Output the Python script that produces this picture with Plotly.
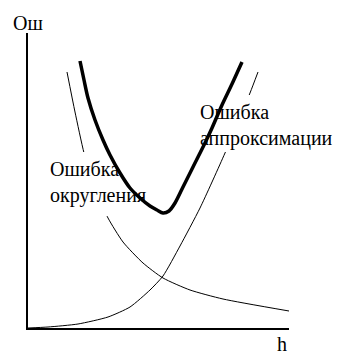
import plotly.graph_objects as go

# Data in arbitrary units (h: 0..261, error: 0..295)
round_h = [39, 47, 56, 64, 72, 80, 95, 115, 135, 162, 195, 261]
round_err = [256, 216, 175, 148, 128, 110, 86, 65, 50, 38, 29, 17]

approx_h = [0, 20, 50, 80, 102, 122, 135, 152, 172, 197, 222, 230]
approx_err = [0, 1, 4, 11, 21, 38, 52, 82, 120, 175, 235, 256]

total_h = [52, 56, 60, 67, 75, 82, 92, 102, 112, 122, 129, 135, 141, 147, 155, 165, 177, 184, 194, 204, 214]
total_err = [267, 248, 230, 208, 188, 173, 155, 140, 130, 122, 118, 115, 117, 125, 141, 161, 185, 200, 223, 244, 266]

label_round = "Ошибка<br>округления"
label_approx = "Ошибка<br>аппроксимации"
y_title = "Ош"
x_title = "h"

FONT = "Liberation Serif, Times New Roman, Liberation Sans, Arial, sans-serif"

fig = go.Figure()
fig.add_trace(go.Scatter(x=round_h, y=round_err, mode="lines",
                         line=dict(color="black", width=1, shape="spline", smoothing=0.6),
                         hoverinfo="skip"))
fig.add_trace(go.Scatter(x=approx_h, y=approx_err, mode="lines",
                         line=dict(color="black", width=1, shape="spline", smoothing=0.6),
                         hoverinfo="skip"))
# white label backgrounds (hide thin curves behind text boxes)
fig.add_trace(go.Scatter(x=[17, 124, 124, 17, 17], y=[112, 112, 176, 176, 112],
                         fill="toself", fillcolor="white", mode="lines",
                         line=dict(width=0, color="white"), hoverinfo="skip"))
fig.add_trace(go.Scatter(x=[167, 261, 261, 167, 167], y=[176, 176, 233, 233, 176],
                         fill="toself", fillcolor="white", mode="lines",
                         line=dict(width=0, color="white"), hoverinfo="skip"))
fig.add_trace(go.Scatter(x=total_h, y=total_err, mode="lines",
                         line=dict(color="black", width=3.5, shape="spline", smoothing=0.8),
                         hoverinfo="skip"))

fig.add_annotation(x=20, y=172, xref="x", yref="y", text=label_round, showarrow=False,
                   xanchor="left", yanchor="top", align="left",
                   font=dict(family=FONT, size=20, color="black"))
fig.add_annotation(x=170, y=229, xref="x", yref="y", text=label_approx, showarrow=False,
                   xanchor="left", yanchor="top", align="left",
                   font=dict(family=FONT, size=20, color="black"))
fig.add_annotation(x=-0.065, y=0.99, xref="paper", yref="paper", text=y_title, showarrow=False,
                   xanchor="left", yanchor="bottom",
                   font=dict(family=FONT, size=20, color="black"))
fig.add_annotation(x=1.0, y=-0.01, xref="paper", yref="paper", text=x_title, showarrow=False,
                   xanchor="right", yanchor="top",
                   font=dict(family=FONT, size=20, color="black"))

fig.update_xaxes(range=[0, 261], showline=True, linecolor="black", linewidth=1.5,
                 showgrid=False, zeroline=False, showticklabels=False, ticks="")
fig.update_yaxes(range=[0, 295], showline=True, linecolor="black", linewidth=1.5,
                 showgrid=False, zeroline=False, showticklabels=False, ticks="")
fig.update_layout(width=349, height=364, margin=dict(l=28, r=60, t=33, b=36),
                  plot_bgcolor="white", paper_bgcolor="white", showlegend=False)

fig.write_html("out.html", config={"displayModeBar": False})
